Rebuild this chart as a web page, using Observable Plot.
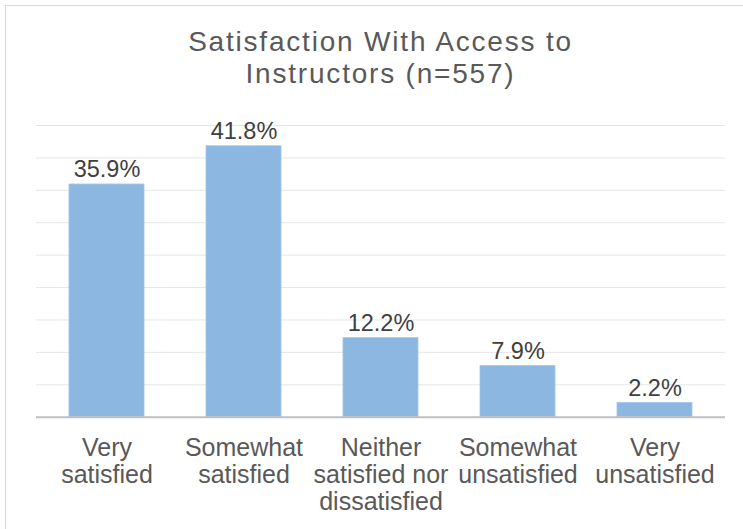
<!DOCTYPE html>
<html>
<head>
<meta charset="utf-8">
<script src="https://cdn.jsdelivr.net/npm/d3@7"></script>
<script src="https://cdn.jsdelivr.net/npm/@observablehq/plot@0.6"></script>
<style>
  html, body { margin: 0; padding: 0; background: #fff; width: 743px; height: 529px; overflow: hidden; }
  body { position: relative; font-family: "Liberation Sans", Arial, sans-serif; }
  #frame { position: absolute; left: 5px; top: 5px; width: 800px; height: 600px; border: 1px solid #d9d9d9; box-sizing: border-box; }
  #title { position: absolute; left: 0; width: 761px; top: 26px; text-align: center; font-size: 28px; line-height: 32px; letter-spacing: 1.8px; color: #595959; }
  #chart { position: absolute; left: 0; top: 100px; }
</style>
</head>
<body>
<div id="frame"></div>
<div id="title">Satisfaction With Access to<br>Instructors (n=557)</div>
<div id="chart"></div>
<script>
const categories = [
  "Very\nsatisfied",
  "Somewhat\nsatisfied",
  "Neither\nsatisfied nor\ndissatisfied",
  "Somewhat\nunsatisfied",
  "Very\nunsatisfied"
];
const values = [35.9, 41.8, 12.2, 7.9, 2.2];
const gridTicks = [5, 10, 15, 20, 25, 30, 35, 40, 45];

const data = categories.map((c, i) => ({category: c, value: values[i]}));

const chart = Plot.plot({
  width: 743,
  height: 429,
  marginLeft: 36,
  marginRight: 18,
  marginTop: 25,
  marginBottom: 112.3,
  style: {fontFamily: "'Liberation Sans', Arial, sans-serif", background: "transparent", color: "#595959"},
  x: {domain: categories, paddingInner: 0.45, paddingOuter: 0.225},
  y: {domain: [0, 45]},
  marks: [
    Plot.gridY(gridTicks, {stroke: "#e6e6e6", strokeOpacity: 1, strokeWidth: 1}),
    Plot.barY(data, {x: "category", y: "value", fill: "#8cb7e0", stroke: "#a3c6e8", strokeWidth: 0.8}),
    Plot.ruleY([0], {stroke: "#bfbfbf", strokeWidth: 2}),
    Plot.text(data, {x: "category", y: "value", text: d => d.value.toFixed(1) + "%", lineAnchor: "bottom", dy: -7, fontSize: 23.5, fill: "#404040"}),
    Plot.axisX({tickSize: 0, tickPadding: 20, fontSize: 25, lineHeight: 1.08, color: "#595959", fill: "#595959", label: null}),
    Plot.axisY({ticks: [], label: null})
  ]
});
document.getElementById("chart").appendChild(chart);
</script>
</body>
</html>
